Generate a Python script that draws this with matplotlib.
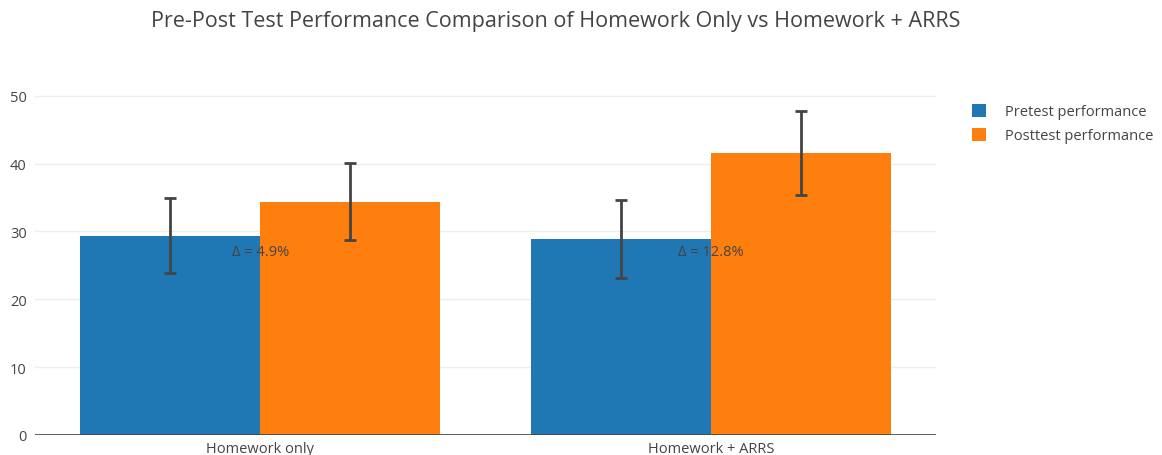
import matplotlib.pyplot as plt
import numpy as np

plt.rcParams['font.family'] = ['Open Sans', 'DejaVu Sans']

########### DATA ##############

groups = ["Homework only", "Homework + ARRS"]
pretest = [29.4, 28.9]
pretest_err = [5.5, 5.7]
posttest = [34.4, 41.6]
posttest_err = [5.7, 6.2]
deltas = ["Δ = 4.9%", "Δ = 12.8%"]
delta_y = [27.1, 27.0]

########### PLOT ##############

fig = plt.figure(figsize=(11.62, 4.56), dpi=100)
ax = fig.add_axes([35 / 1162, 1 - 436 / 456, (936 - 35) / 1162, (436 - 94) / 456])

x = np.arange(len(groups))
w = 0.4
err_kw = dict(ecolor="#444444", elinewidth=2, capsize=4, capthick=2)

ax.bar(x - w / 2, pretest, w, yerr=pretest_err, color="#1f77b4",
       label="Pretest performance", error_kw=err_kw, zorder=2)
ax.bar(x + w / 2, posttest, w, yerr=posttest_err, color="#ff7f0e",
       label="Posttest performance", error_kw=err_kw, zorder=2)

for xi, txt, yy in zip(x, deltas, delta_y):
    ax.text(xi, yy, txt, ha="center", va="center", fontsize=10.5, color="#444444", zorder=3)

ax.set_xlim(-0.5, 1.5)
ax.set_ylim(0, 50.4)
ax.set_yticks([0, 10, 20, 30, 40, 50])
ax.set_xticks(x)
ax.set_xticklabels(groups)
ax.grid(axis="y", color="#eeeeee", linewidth=1, zorder=0)
ax.axhline(0, color="#444444", linewidth=1.2, zorder=3)
for s in ax.spines.values():
    s.set_visible(False)
ax.tick_params(axis="both", length=0, labelsize=10.5, labelcolor="#444444")
ax.tick_params(axis="x", pad=4)
ax.tick_params(axis="y", pad=6)

fig.text(556 / 1162, 1 - 22 / 456, "Pre-Post Test Performance Comparison of Homework Only vs Homework + ARRS",
         ha="center", va="center", fontsize=15.5, color="#444444")

leg = ax.legend(loc="upper left", bbox_to_anchor=(1.033, 0.985), frameon=False,
                fontsize=10.5, handlelength=1.0, handleheight=1.0, handletextpad=1.3,
                labelspacing=0.55, borderaxespad=0)
for t in leg.get_texts():
    t.set_color("#444444")

plt.savefig("out.png", dpi=100)
